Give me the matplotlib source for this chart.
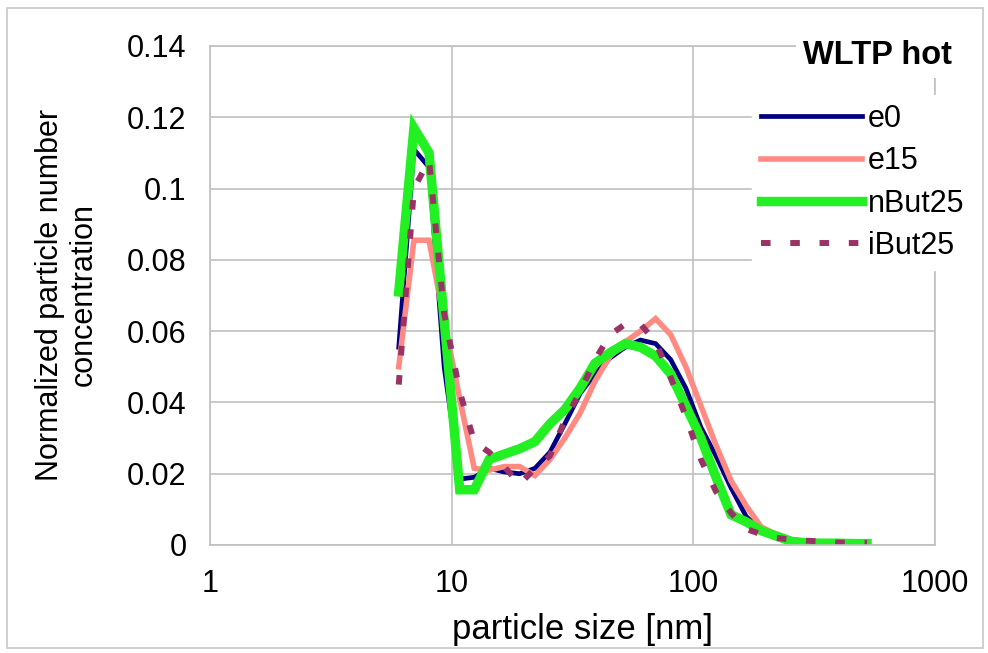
import matplotlib
matplotlib.use("Agg")
import matplotlib.pyplot as plt
from matplotlib.patches import Rectangle

plt.rcParams["font.family"] = ["Liberation Sans", "DejaVu Sans"]
plt.rcParams["font.size"] = 22

# EEPS size channels [nm]
sizes = [6.04, 6.98, 8.06, 9.31, 10.8, 12.4, 14.3, 16.5, 19.1, 22.1, 25.5,
         29.4, 34.0, 39.2, 45.3, 52.3, 60.4, 69.8, 80.6, 93.1, 107.5, 124.1,
         143.3, 165.5, 191.1, 220.7, 254.8, 294.3, 339.8, 392.4, 453.2, 523.3]

e0 = [0.0555, 0.111, 0.106, 0.050, 0.0185, 0.019, 0.0215, 0.0205, 0.020,
      0.0215, 0.026, 0.034, 0.0425, 0.048, 0.0525, 0.0555, 0.0575, 0.0565,
      0.052, 0.044, 0.033, 0.025, 0.016, 0.008, 0.004, 0.0025, 0.0015,
      0.001, 0.0007, 0.0005, 0.0004, 0.0003]
e15 = [0.050, 0.0855, 0.0855, 0.063, 0.041, 0.0215, 0.021, 0.022, 0.022,
       0.0195, 0.024, 0.030, 0.037, 0.046, 0.053, 0.057, 0.060, 0.0635,
       0.059, 0.050, 0.039, 0.028, 0.018, 0.011, 0.005, 0.003, 0.0015,
       0.001, 0.0006, 0.0005, 0.0004, 0.0003]
nbut25 = [0.071, 0.117, 0.110, 0.063, 0.0155, 0.0155, 0.024, 0.0255, 0.027,
          0.029, 0.034, 0.038, 0.044, 0.051, 0.054, 0.0565, 0.0555, 0.053,
          0.048, 0.039, 0.030, 0.019, 0.0085, 0.0065, 0.004, 0.0025, 0.001,
          0.0006, 0.0005, 0.0005, 0.0004, 0.0004]
ibut25 = [0.045, 0.100, 0.108, 0.065, 0.043, 0.029, 0.026, 0.022, 0.017,
          0.0215, 0.025, 0.035, 0.043, 0.052, 0.059, 0.062, 0.062, 0.057,
          0.047, 0.036, 0.024, 0.015, 0.009, 0.0045, 0.003, 0.002, 0.0015,
          0.0012, 0.001, 0.0007, 0.0006, 0.0006]

yticks = [0, 0.02, 0.04, 0.06, 0.08, 0.1, 0.12, 0.14]
ytick_labels = ["0", "0.02", "0.04", "0.06", "0.08", "0.1", "0.12", "0.14"]
xticks = [1, 10, 100, 1000]
xtick_labels = ["1", "10", "100", "1000"]

W, H = 988, 653
fig = plt.figure(figsize=(W / 100, H / 100), dpi=100)
ax = fig.add_axes([210 / W, 1 - 545 / H, (935 - 210) / W, (545 - 46) / H])

grid_c = "#C0C0C0"
ax.plot(sizes, e0, color="#000080", lw=3.4, label="e0", solid_joinstyle="miter")
ax.plot(sizes, e15, color="#FF8A82", lw=4.0, label="e15", solid_joinstyle="miter")
ax.plot(sizes, nbut25, color="#22F022", lw=6.8, label="nBut25", solid_joinstyle="miter")
ax.plot(sizes, ibut25, color="#993366", lw=4.3, label="iBut25",
        dashes=(1.6, 3.3), dash_capstyle="butt")

ax.set_xscale("log")
ax.set_xlim(1, 1000)
ax.set_ylim(0, 0.14)
ax.set_xticks(xticks)
ax.set_xticklabels(xtick_labels)
ax.minorticks_off()
ax.set_yticks(yticks)
ax.set_yticklabels(ytick_labels)
ax.tick_params(length=0, pad=17, labelsize=22)
ax.grid(True, color=grid_c, lw=1.2)
ax.set_axisbelow(True)
for s in ax.spines.values():
    s.set_color(grid_c)
    s.set_linewidth(1.2)

leg = ax.legend(loc="upper left", bbox_to_anchor=(752 / W, 1 - 95 / H),
                bbox_transform=fig.transFigure, frameon=True, fancybox=False,
                facecolor="white", edgecolor="white", framealpha=1,
                fontsize=22, handlelength=3.3, handletextpad=0.2,
                labelspacing=0.4, borderpad=0.3, borderaxespad=0)

fig.text(877 / W, 1 - 56 / H, "WLTP hot", ha="center", va="center",
         fontsize=23.5, fontweight="bold",
         bbox=dict(facecolor="white", edgecolor="none", pad=5))

fig.text(582 / W, 1 - 630 / H, "particle size [nm]", ha="center", va="center",
         fontsize=25)
fig.text(67 / W, 1 - 295 / H, "Normalized particle number\nconcentration",
         ha="center", va="center", rotation=90, fontsize=22,
         multialignment="center", linespacing=1.15)

fig.patches.append(Rectangle((7 / W, 1 - 648 / H), (983 - 7) / W, (648 - 8) / H,
                             transform=fig.transFigure, fill=False,
                             edgecolor="#C8C8C8", lw=1.2))

fig.savefig("out.png", dpi=100)
